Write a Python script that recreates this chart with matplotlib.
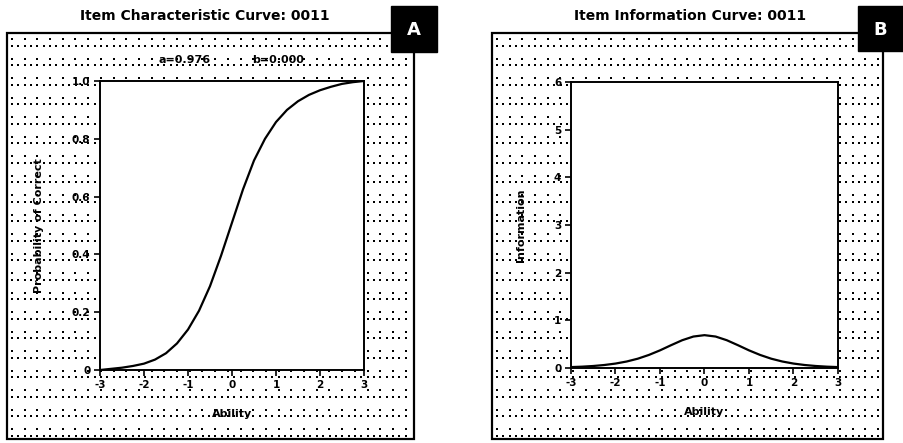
import numpy as np
import matplotlib.pyplot as plt
from matplotlib.patches import Rectangle

plt.rcParams['axes.unicode_minus'] = False

# ability grid and curves
theta = [-3.0, -2.75, -2.5, -2.25, -2.0, -1.75, -1.5, -1.25, -1.0, -0.75, -0.5, -0.25,
         0.0, 0.25, 0.5, 0.75, 1.0, 1.25, 1.5, 1.75, 2.0, 2.25, 2.5, 2.75, 3.0]
icc = [0.0, 0.004, 0.008, 0.014, 0.022, 0.036, 0.058, 0.092, 0.14, 0.205, 0.29, 0.395,
       0.51, 0.625, 0.725, 0.80, 0.858, 0.90, 0.93, 0.952, 0.968, 0.98, 0.99, 0.996, 1.0]
info = [0.019, 0.028, 0.042, 0.063, 0.093, 0.136, 0.195, 0.274, 0.370, 0.479, 0.583, 0.660,
        0.689, 0.660, 0.583, 0.479, 0.370, 0.274, 0.195, 0.136, 0.093, 0.063, 0.042, 0.028, 0.019]

x_ticks = [-3, -2, -1, 0, 1, 2, 3]
icc_ticks = [0, 0.2, 0.4, 0.6, 0.8, 1.0]
icc_labels = ['0', '0.2', '0.4', '0.6', '0.8', '1.0']
info_ticks = [0, 1, 2, 3, 4, 5, 6]

title_a = "Item Characteristic Curve: 0011"
title_b = "Item Information Curve: 0011"
stat_a = "a=0.976"
stat_b = "b=0.000"

W, H = 904, 443
fig = plt.figure(figsize=(W / 100, H / 100), dpi=100)

# background layer in pixel coordinates
bg = fig.add_axes([0, 0, 1, 1], zorder=-1)
bg.set_xlim(0, W)
bg.set_ylim(H, 0)
bg.axis('off')


def dotted_frame(x0, y0, x1, y1):
    pts = []
    y = y0 + 6
    while y < y1 - 2:
        for xx in np.arange(x0 + 5, x1 - 2, 12.7):
            pts.append((xx, y))
        for xx in np.arange(x0 + 5, x1 - 2, 6.35):
            pts.append((xx, y + 6.5))
        y += 19.5
    pts = np.array(pts)
    pts = pts[pts[:, 1] < y1 - 2]
    bg.scatter(pts[:, 0], pts[:, 1], s=1.6, marker='s', c='black', linewidths=0)
    bg.add_patch(Rectangle((x0, y0), x1 - x0, y1 - y0, fill=False, lw=1.6, ec='black'))


def badge(x0, y0, size, letter):
    bg.add_patch(Rectangle((x0, y0), size, size, fc='black', ec='black', zorder=5))
    bg.text(x0 + size / 2, y0 + size / 2 + 1, letter, color='white', fontsize=13,
            fontweight='bold', ha='center', va='center', zorder=6)


dotted_frame(7, 33, 414, 439)
dotted_frame(492, 33, 883, 439)
badge(391, 6, 46, 'A')
badge(858, 6, 45, 'B')

bg.text(205, 16, title_a, fontsize=10, fontweight='bold', ha='center', va='center')
bg.text(690, 16, title_b, fontsize=10, fontweight='bold', ha='center', va='center')
bg.text(185, 60, stat_a, fontsize=8, fontweight='bold', ha='center', va='center')
bg.text(278, 60, stat_b, fontsize=8, fontweight='bold', ha='center', va='center')


def px_axes(x0, y0, x1, y1):
    return fig.add_axes([x0 / W, 1 - y1 / H, (x1 - x0) / W, (y1 - y0) / H])


ax1 = px_axes(100, 81, 364, 370)
ax1.plot(theta, icc, color='black', lw=1.6)
ax1.set_xlim(-3, 3)
ax1.set_ylim(0, 1)
ax1.set_yticks(icc_ticks)
ax1.set_yticklabels(icc_labels)

ax2 = px_axes(571, 82, 838, 368)
ax2.plot(theta, info, color='black', lw=1.6)
ax2.set_xlim(-3, 3)
ax2.set_ylim(0, 6)
ax2.set_yticks(info_ticks)

for ax in (ax1, ax2):
    ax.set_facecolor('white')
    ax.set_xticks(x_ticks)
    ax.tick_params(direction='out', length=4, width=1.2, labelsize=7.5, pad=3)
    for lab in ax.get_xticklabels() + ax.get_yticklabels():
        lab.set_fontweight('bold')
    for sp in ax.spines.values():
        sp.set_linewidth(1.4)
    ax.set_xlabel('Ability', fontsize=8, fontweight='bold', labelpad=14)

ax1.set_ylabel('Probability of Correct', fontsize=8, fontweight='bold', labelpad=20)
ax2.set_ylabel('Information', fontsize=8, fontweight='bold', labelpad=20)

fig.savefig('out.png', dpi=100)
